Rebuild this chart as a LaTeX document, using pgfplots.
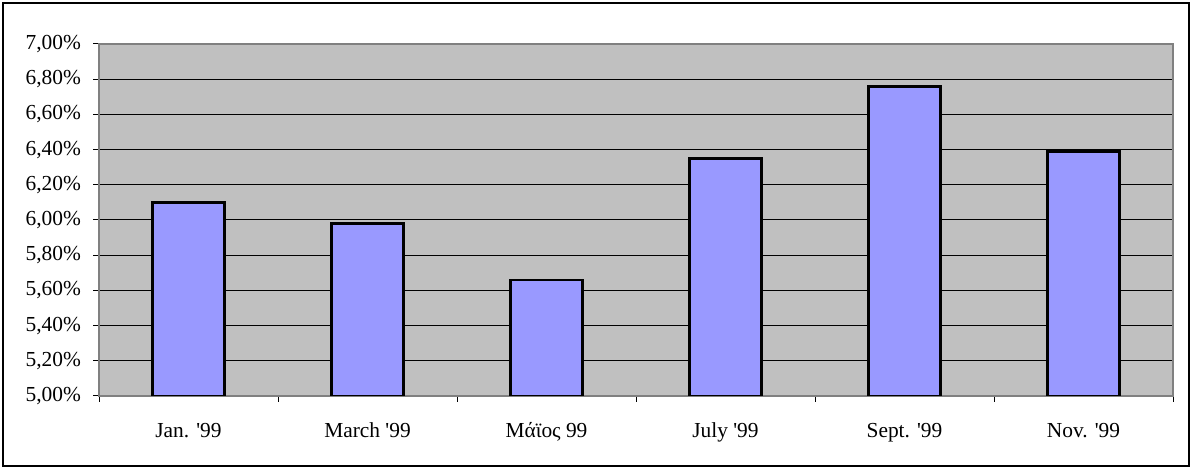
\documentclass[border=0pt]{standalone}
\usepackage{fontspec}
\setmainfont{Liberation Serif}
\usepackage{pgfplots}
\pgfplotsset{compat=1.18}
\definecolor{plotgray}{HTML}{C0C0C0}
\definecolor{barblue}{HTML}{9999FF}
\definecolor{axisgray}{HTML}{808080}

\begin{document}
\begin{tikzpicture}
  \useasboundingbox (0,0) rectangle (596pt,234.5pt);
  \draw[black, line width=0.6pt] (1.5pt,1.5pt) rectangle (594.5pt,233pt);
  \begin{axis}[
    at={(49.5pt,36.5pt)}, anchor=south west,
    scale only axis,
    width=537pt, height=176pt,
    xmin=-0.5, xmax=5.5,
    ymin=5, ymax=7,
    ytick={5,5.2,5.4,5.6,5.8,6,6.2,6.4,6.6,6.8,7},
    yticklabel={\pgfmathprintnumber{\tick}\%},
    /pgf/number format/.cd, use comma, fixed, fixed zerofill, precision=2,
    assume math mode=true,
    /pgfplots/.cd,
    xtick={0,1,2,3,4,5},
    xticklabels={Jan. \textquotesingle99, March \textquotesingle99, Μάϊος 99,
                 July \textquotesingle99, Sept. \textquotesingle99, Nov. \textquotesingle99},
    minor xtick={-0.5,0.5,1.5,2.5,3.5,4.5,5.5},
    major x tick style={draw=none},
    minor x tick style={black, line width=0.5pt},
    minor tick length=3pt,
    major tick length=3pt,
    tick align=outside,
    xtick pos=bottom, ytick pos=left,
    y tick style={black, line width=0.5pt},
    ymajorgrids,
    grid style={black, line width=0.5pt},
    axis background/.style={fill=plotgray},
    axis line style={axisgray, line width=0.9pt},
    tick label style={font=\fontsize{10.7}{12}\selectfont},
    xticklabel style={yshift=-6pt, text height=8pt, text depth=2.5pt},
    yticklabel style={xshift=-2.5pt},
    ybar, bar width=0.4,
  ]
    \addplot[fill=barblue, draw=black, line width=1.3pt] coordinates {
      (0,6.10) (1,5.98) (2,5.66) (3,6.35) (4,6.76) (5,6.39)
    };
  \end{axis}
\end{tikzpicture}
\end{document}
